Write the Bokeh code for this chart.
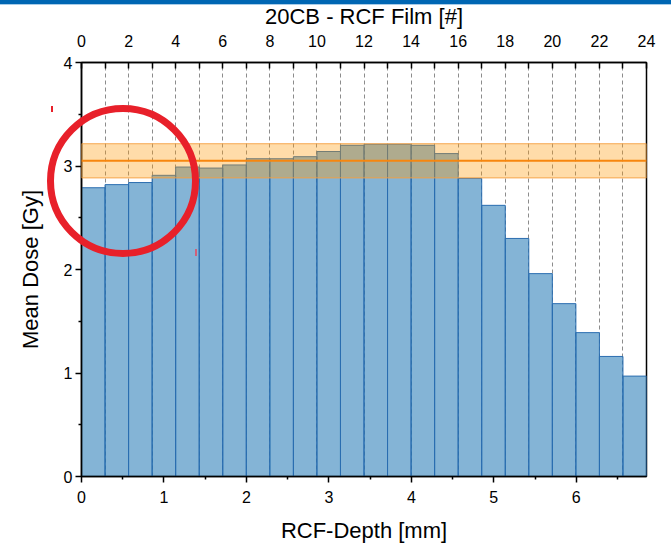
import numpy as np
from bokeh.plotting import figure
from bokeh.layouts import column
from bokeh.models import (Range1d, LinearAxis, FixedTicker, BoxAnnotation, Span,
                          Div, ColumnDataSource)
from bokeh.embed import file_html
from bokeh.resources import INLINE

# Mean dose per film of the 20CB radiochromic film stack
doses = [2.79, 2.82, 2.84, 2.91, 2.99, 2.98, 3.01, 3.07, 3.07, 3.09, 3.14, 3.20,
         3.21, 3.21, 3.20, 3.12, 2.88, 2.62, 2.30, 1.96, 1.67, 1.39, 1.16, 0.97]
film_thickness = 0.2855          # mm per film
n_films = len(doses)

# Reference dose with its tolerance band
dose_mean = 3.05
dose_low = 2.885
dose_high = 3.215

# Axis ticks
depth_ticks = [0, 1, 2, 3, 4, 5, 6]
depth_minor = [0.5, 1.5, 2.5, 3.5, 4.5, 5.5, 6.5]
film_ticks = list(range(0, 25, 2))
film_minor = list(range(1, 24, 2))
dose_ticks = [0, 1, 2, 3, 4]
dose_minor = [0.5, 1.5, 2.5, 3.5]
dose_max = 4

FONT = "Liberation Sans"
depth_max = n_films * film_thickness

W, H = 671, 547
BORDER_L, BORDER_R, BORDER_T, BORDER_B = 81, 25, 62, 71

p = figure(width=W, height=H, output_backend="svg", toolbar_location=None,
           x_range=Range1d(0, depth_max), y_range=Range1d(0, dose_max),
           min_border_left=BORDER_L, min_border_right=BORDER_R,
           min_border_top=BORDER_T, min_border_bottom=BORDER_B)
p.background_fill_color = "white"
p.border_fill_color = "white"
p.outline_line_color = "black"
p.outline_line_width = 1.5

# bars: one per film
idx = np.arange(n_films)
src = ColumnDataSource(dict(left=idx * film_thickness, right=(idx + 1) * film_thickness,
                            top=doses, bottom=np.zeros(n_films)))
p.quad(left="left", right="right", top="top", bottom="bottom", source=src,
       fill_color="#1f77b4", fill_alpha=0.55, line_color="#2a6db0", line_width=1)

# tolerance band and mean line
p.add_layout(BoxAnnotation(bottom=dose_low, top=dose_high, fill_color="#ff9a0a",
                           fill_alpha=0.35, line_color="#f5a040", line_alpha=0.9,
                           line_width=1))
p.add_layout(Span(location=dose_mean, dimension="width", line_color="#f7860e",
                  line_width=2))

# axes
def style_axis(ax, tick_size, title_size):
    ax.axis_line_color = "black"
    ax.axis_line_width = 1.5
    ax.major_tick_line_color = "black"
    ax.minor_tick_line_color = "black"
    ax.major_tick_line_width = 1.5
    ax.minor_tick_line_width = 1.5
    ax.major_label_text_font = FONT
    ax.major_label_text_font_size = tick_size
    ax.major_label_text_color = "black"
    ax.axis_label_text_font = FONT
    ax.axis_label_text_font_size = title_size
    ax.axis_label_text_font_style = "normal"
    ax.axis_label_text_color = "black"

xa = p.xaxis[0]
xa.ticker = FixedTicker(ticks=depth_ticks, minor_ticks=depth_minor)
xa.axis_label = "RCF-Depth [mm]"
style_axis(xa, "16px", "22px")
xa.major_tick_out = 6
xa.major_tick_in = 0
xa.minor_tick_out = 3
xa.minor_tick_in = 0
xa.major_label_standoff = 8
xa.axis_label_standoff = 12

ya = p.yaxis[0]
ya.ticker = FixedTicker(ticks=dose_ticks, minor_ticks=dose_minor)
ya.axis_label = "Mean Dose [Gy]"
style_axis(ya, "16px", "22px")
ya.major_tick_out = 6
ya.major_tick_in = 0
ya.minor_tick_out = 3
ya.minor_tick_in = 0
ya.major_label_standoff = 3
ya.axis_label_standoff = 18

p.extra_x_ranges = {"film": Range1d(0, n_films)}
top = LinearAxis(x_range_name="film",
                 ticker=FixedTicker(ticks=film_ticks, minor_ticks=film_minor),
                 axis_label="20CB - RCF Film [#]")
style_axis(top, "16px", "22px")
top.major_tick_out = 0
top.major_tick_in = 6
top.minor_tick_out = 0
top.minor_tick_in = 6
top.major_label_standoff = 16
top.axis_label_standoff = 3
p.add_layout(top, "above")

# dashed lines at every film boundary
p.xgrid.ticker = FixedTicker(ticks=[k * film_thickness for k in range(1, n_films)])
p.xgrid.grid_line_color = "#8c8c8c"
p.xgrid.grid_line_dash = "4 3"
p.xgrid.grid_line_width = 1
p.ygrid.visible = False

# ---- overlays drawn above the plot (they reach outside the data frame) ----
frame_w = W - BORDER_L - BORDER_R
frame_h = H - BORDER_T - BORDER_B

def to_px(x, y):
    return (BORDER_L + x / depth_max * frame_w,
            BORDER_T + (dose_max - y) / dose_max * frame_h)

def overlay(left, top_, width, height, **css):
    styles = {"position": "absolute", "left": f"{left:.1f}px", "top": f"{top_:.1f}px",
              "width": f"{width}px", "height": f"{height}px",
              "min-width": f"{width}px", "min-height": f"{height}px",
              "box-sizing": "border-box", "pointer-events": "none", "margin": "0"}
    styles.update(css)
    return Div(text="", width=width, height=height, styles=styles)

# highlight ring around the first films, below the tolerance band
ring_x, ring_y, ring_d = 0.504, 2.848, 152
cx, cy = to_px(ring_x, ring_y)
ring = overlay(cx - ring_d / 2, cy - ring_d / 2, ring_d, ring_d,
               border="7px solid #e8202a", **{"border-radius": "50%"})

# small pen marks
marks = []
for mx, my, mh, mc in [(-0.358, 3.547, 6, "#e8202a"), (1.39, 2.16, 7, "#d0607a")]:
    px, py = to_px(mx, my)
    marks.append(overlay(px - 1, py - mh / 2, 2, mh, background=mc))

# header bar
banner = overlay(0, 0, W, 5, background="#0066b3",
                 **{"border-bottom": "1.5px solid #a8cce8"})

layout = column(p, banner, ring, *marks)
open("out.html", "w").write(file_html(layout, INLINE))
